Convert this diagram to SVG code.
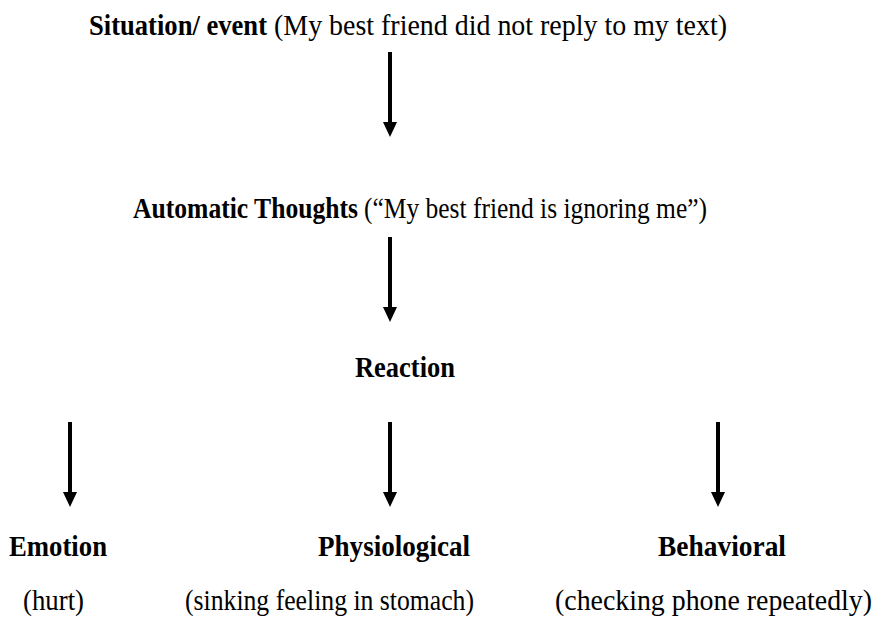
<svg xmlns="http://www.w3.org/2000/svg" width="884" height="634" viewBox="0 0 884 634">
  <style>
    text { font-family: "Liberation Serif", "Times New Roman", serif; font-size: 29px; fill: #000; }
    .b { font-weight: bold; }
    .shaft { stroke: #000; stroke-width: 4; fill: none; }
    .head { fill: #000; }
  </style>
  <defs>
    <!-- downward arrow: shaft plus head, tip at the origin -->
    <g id="arrowDown">
      <line class="shaft" x1="0" y1="-85" x2="0" y2="-12"/>
      <polygon class="head" points="-7,-15 7,-15 0,0"/>
    </g>
  </defs>
  <rect width="884" height="634" fill="#fff"/>

  <g id="connectors">
    <use href="#arrowDown" x="390" y="137"/>
    <use href="#arrowDown" x="390" y="322"/>
    <use href="#arrowDown" x="70" y="507"/>
    <use href="#arrowDown" x="390" y="507"/>
    <use href="#arrowDown" x="718" y="507"/>
  </g>

  <g id="situation">
    <text class="b" x="89" y="35" textLength="178" lengthAdjust="spacingAndGlyphs">Situation/ event</text>
    <text x="274" y="35" textLength="453" lengthAdjust="spacingAndGlyphs">(My best friend did not reply to my text)</text>
  </g>
  <g id="thoughts">
    <text class="b" x="133" y="218" textLength="225" lengthAdjust="spacingAndGlyphs">Automatic Thoughts</text>
    <text x="364" y="218" textLength="343" lengthAdjust="spacingAndGlyphs">(“My best friend is ignoring me”)</text>
  </g>
  <g id="reaction">
    <text class="b" x="355" y="377" textLength="100" lengthAdjust="spacingAndGlyphs">Reaction</text>
  </g>
  <g id="emotion">
    <text class="b" x="9" y="556" textLength="98" lengthAdjust="spacingAndGlyphs">Emotion</text>
    <text x="23" y="610" textLength="61" lengthAdjust="spacingAndGlyphs">(hurt)</text>
  </g>
  <g id="physiological">
    <text class="b" x="318" y="556" textLength="152" lengthAdjust="spacingAndGlyphs">Physiological</text>
    <text x="185" y="610" textLength="289" lengthAdjust="spacingAndGlyphs">(sinking feeling in stomach)</text>
  </g>
  <g id="behavioral">
    <text class="b" x="658" y="556" textLength="128" lengthAdjust="spacingAndGlyphs">Behavioral</text>
    <text x="555" y="610" textLength="317" lengthAdjust="spacingAndGlyphs">(checking phone repeatedly)</text>
  </g>
</svg>
